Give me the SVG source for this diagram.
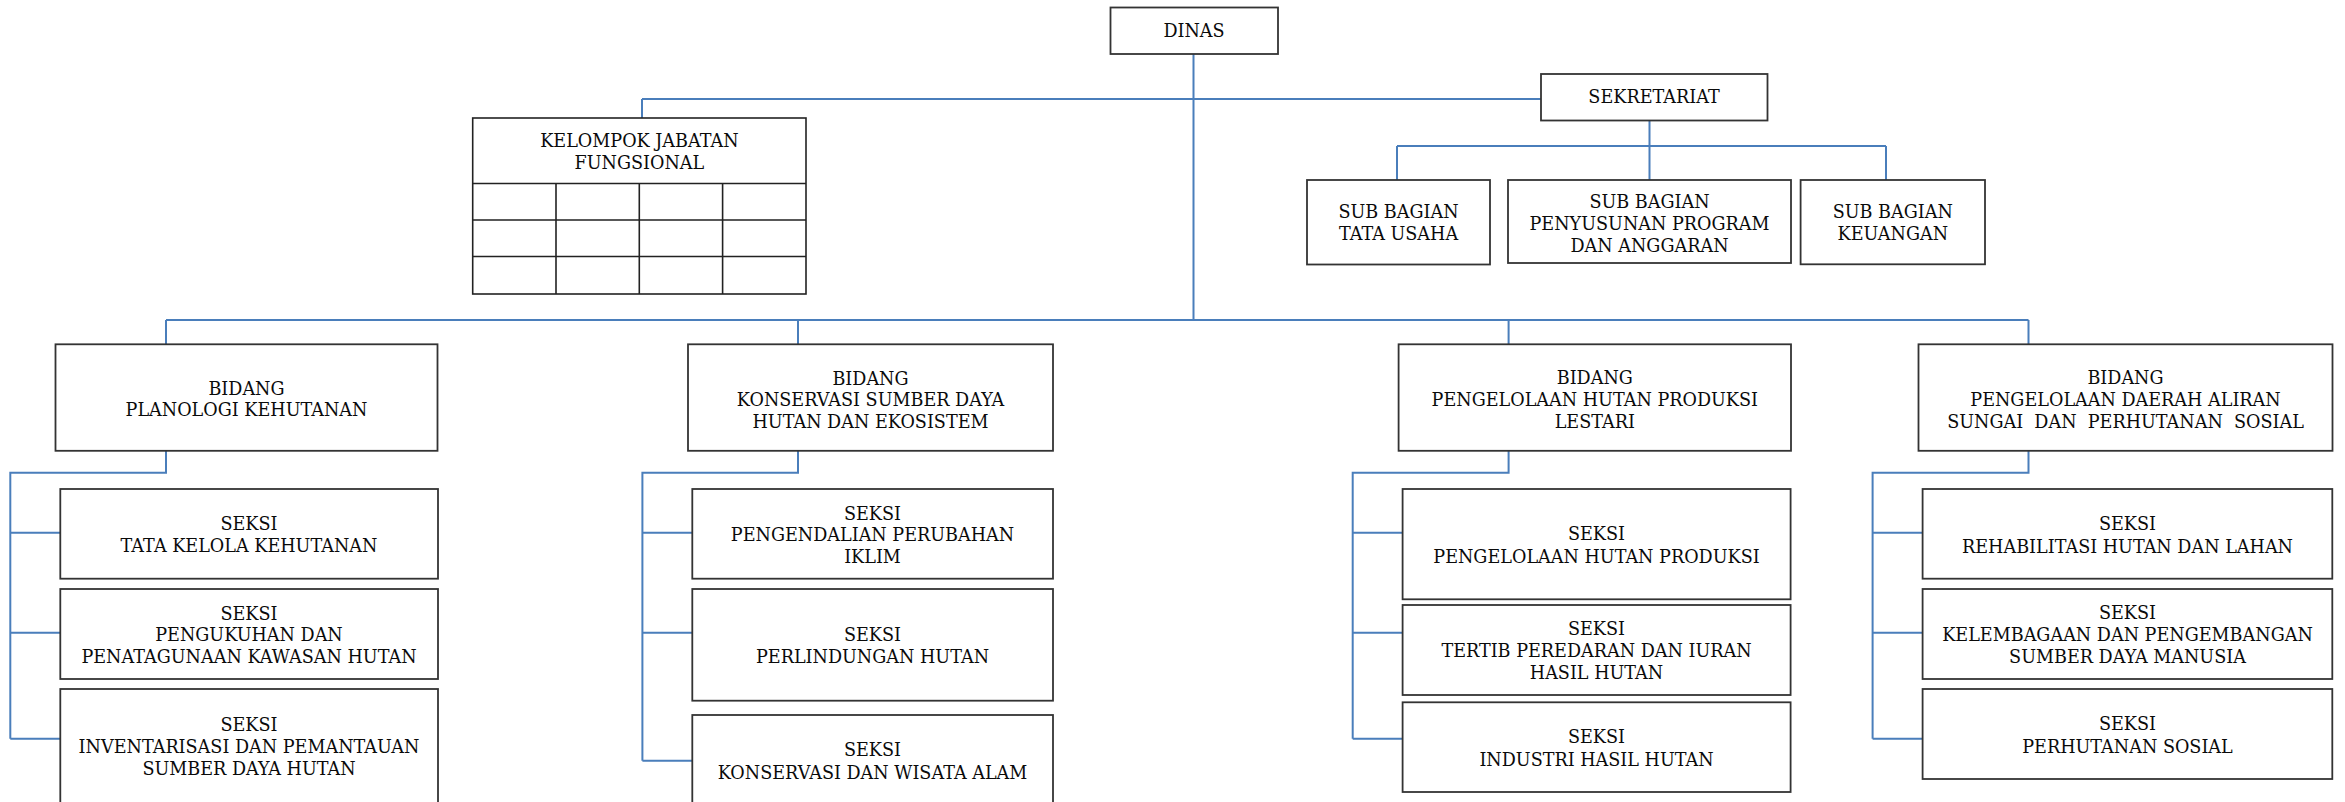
<svg xmlns="http://www.w3.org/2000/svg" width="2345" height="802" viewBox="0 0 2345 802">
<style>
.box{fill:#fff;stroke:#333;stroke-width:1.8}
.grid{fill:none;stroke:#222;stroke-width:1.6}
.con{fill:none;stroke:#4a7ebb;stroke-width:2}
text{font-family:"DejaVu Serif","Liberation Serif",serif;font-size:17.6px;fill:#0a0a0a;text-anchor:middle}
</style>
<rect width="2345" height="802" fill="#fff"/>
<g id="connectors">
<path class="con" d="M1193.5 54V320M642 99H1541M642 99V118"/>
<path class="con" d="M1649.5 120.7V146M1397 146H1886M1397 146V180M1649.5 146V180M1886 146V180"/>
<path class="con" d="M166 320H2028.5M166 320V344.3M798 320V344.3M1508.6 320V344.3M2028.5 320V344.3"/>
<path class="con" d="M166 450.8V472.7H10.3V738.7M10.3 532.7H60.3M10.3 632.7H60.3M10.3 738.7H60.3"/>
<path class="con" d="M798 450.8V472.7H642.4V760.7M642.4 532.7H692.3M642.4 632.7H692.3M642.4 760.7H692.3"/>
<path class="con" d="M1508.6 450.8V472.7H1352.7V738.7M1352.7 532.7H1402.6M1352.7 632.7H1402.6M1352.7 738.7H1402.6"/>
<path class="con" d="M2028.5 450.8V472.7H1872.6V738.7M1872.6 532.7H1922.6M1872.6 632.7H1922.6M1872.6 738.7H1922.6"/>
</g>
<g id="dinas"><rect class="box" x="1110.5" y="7.5" width="167.5" height="46.5"/><text x="1194" y="37">DINAS</text></g>
<g id="kelompok">
<rect class="grid" x="472.7" y="118" width="333.3" height="176"/>
<path class="grid" d="M472.7 183.5H806M472.7 220H806M472.7 256.5H806M556 183.5V294M639.3 183.5V294M722.6 183.5V294"/>
<text x="639.4" y="147">KELOMPOK JABATAN</text><text x="639.4" y="169">FUNGSIONAL</text>
</g>
<g id="sekretariat"><rect class="box" x="1541" y="74" width="226.5" height="46.5"/><text x="1654" y="103">SEKRETARIAT</text></g>
<g id="sb-tu"><rect class="box" x="1307" y="180" width="183" height="84.5"/><text x="1398.5" y="218">SUB BAGIAN</text><text x="1398.5" y="240">TATA USAHA</text></g>
<g id="sb-pp"><rect class="box" x="1508" y="180" width="283" height="83"/><text x="1649.5" y="208">SUB BAGIAN</text><text x="1649.5" y="230">PENYUSUNAN PROGRAM</text><text x="1649.5" y="252">DAN ANGGARAN</text></g>
<g id="sb-keu"><rect class="box" x="1800.6" y="180" width="184.4" height="84.3"/><text x="1892.8" y="218">SUB BAGIAN</text><text x="1892.8" y="240">KEUANGAN</text></g>
<g id="bidang1"><rect class="box" x="55.5" y="344.3" width="382" height="106.5"/><text x="246.5" y="394.5">BIDANG</text><text x="246.5" y="416">PLANOLOGI KEHUTANAN</text></g>
<g id="bidang2"><rect class="box" x="688" y="344.3" width="365" height="106.5"/><text x="870.5" y="384.5">BIDANG</text><text x="870.5" y="406">KONSERVASI SUMBER DAYA</text><text x="870.5" y="428">HUTAN DAN EKOSISTEM</text></g>
<g id="bidang3"><rect class="box" x="1398.6" y="344.3" width="392.4" height="106.5"/><text x="1594.8" y="384">BIDANG</text><text x="1594.8" y="405.5">PENGELOLAAN HUTAN PRODUKSI</text><text x="1594.8" y="428">LESTARI</text></g>
<g id="bidang4"><rect class="box" x="1918.5" y="344.3" width="414" height="106.5"/><text x="2125.5" y="384">BIDANG</text><text x="2125.5" y="405.5">PENGELOLAAN DAERAH ALIRAN</text><text x="2125.5" y="428" xml:space="preserve">SUNGAI  DAN  PERHUTANAN  SOSIAL</text></g>
<g id="seksi-a1"><rect class="box" x="60.3" y="489" width="377.7" height="89.7"/><text x="249" y="530">SEKSI</text><text x="249" y="552">TATA KELOLA KEHUTANAN</text></g>
<g id="seksi-a2"><rect class="box" x="60.3" y="589" width="377.7" height="90"/><text x="249" y="619.5">SEKSI</text><text x="249" y="641">PENGUKUHAN DAN</text><text x="249" y="663">PENATAGUNAAN KAWASAN HUTAN</text></g>
<g id="seksi-a3"><rect class="box" x="60.3" y="689" width="377.7" height="130"/><text x="249" y="731">SEKSI</text><text x="249" y="753">INVENTARISASI DAN PEMANTAUAN</text><text x="249" y="774.5">SUMBER DAYA HUTAN</text></g>
<g id="seksi-b1"><rect class="box" x="692.3" y="489" width="360.7" height="89.7"/><text x="872.5" y="519.5">SEKSI</text><text x="872.5" y="541">PENGENDALIAN PERUBAHAN</text><text x="872.5" y="563">IKLIM</text></g>
<g id="seksi-b2"><rect class="box" x="692.3" y="589" width="360.7" height="111.7"/><text x="872.5" y="641">SEKSI</text><text x="872.5" y="663">PERLINDUNGAN HUTAN</text></g>
<g id="seksi-b3"><rect class="box" x="692.3" y="715" width="360.7" height="110"/><text x="872.5" y="756">SEKSI</text><text x="872.5" y="779">KONSERVASI DAN WISATA ALAM</text></g>
<g id="seksi-c1"><rect class="box" x="1402.6" y="489" width="388" height="110.3"/><text x="1596.5" y="540">SEKSI</text><text x="1596.5" y="563">PENGELOLAAN HUTAN PRODUKSI</text></g>
<g id="seksi-c2"><rect class="box" x="1402.6" y="605" width="388" height="90"/><text x="1596.5" y="634.5">SEKSI</text><text x="1596.5" y="657">TERTIB PEREDARAN DAN IURAN</text><text x="1596.5" y="679">HASIL HUTAN</text></g>
<g id="seksi-c3"><rect class="box" x="1402.6" y="702.3" width="388" height="89.7"/><text x="1596.5" y="743">SEKSI</text><text x="1596.5" y="765.5">INDUSTRI HASIL HUTAN</text></g>
<g id="seksi-d1"><rect class="box" x="1922.6" y="489" width="409.7" height="89.7"/><text x="2127.5" y="529.5">SEKSI</text><text x="2127.5" y="553">REHABILITASI HUTAN DAN LAHAN</text></g>
<g id="seksi-d2"><rect class="box" x="1922.6" y="589" width="409.7" height="90"/><text x="2127.5" y="619">SEKSI</text><text x="2127.5" y="641">KELEMBAGAAN DAN PENGEMBANGAN</text><text x="2127.5" y="663">SUMBER DAYA MANUSIA</text></g>
<g id="seksi-d3"><rect class="box" x="1922.6" y="689" width="409.7" height="90"/><text x="2127.5" y="730">SEKSI</text><text x="2127.5" y="753">PERHUTANAN SOSIAL</text></g>
</svg>
